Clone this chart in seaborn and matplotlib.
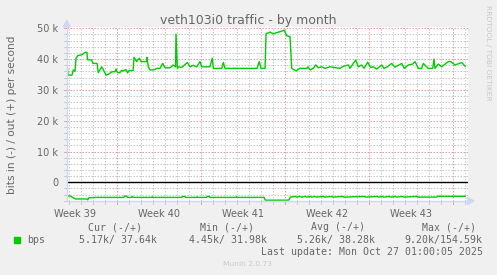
import numpy as np
import pandas as pd
import matplotlib
matplotlib.use("Agg")
import matplotlib.pyplot as plt
import seaborn as sns
from matplotlib.patches import Polygon, Rectangle
from matplotlib.lines import Line2D

# ---------------- data (days since start of window, values in k bits/s) ----------------
out_days = [0, 0.11, 0.44, 0.55, 0.69, 0.78, 0.94, 1.28, 1.53, 1.69, 1.73, 2.08, 2.19, 2.53, 2.63,
            2.92, 3.28, 3.44, 3.78, 4.03, 4.11, 4.23, 4.44, 4.58, 4.72, 4.94, 5.08, 5.19, 5.53, 5.61,
            5.83, 6.05, 6.19, 6.67, 6.69, 6.80, 6.94, 7.22, 7.53, 7.78, 8.00, 8.19, 8.61, 8.75, 8.86,
            9.07, 9.11, 9.22, 9.30, 9.58, 10.05, 10.28, 10.55, 10.83, 11.11, 11.25, 11.94, 12.13, 12.22,
            12.92, 13.05, 13.19, 14.03, 14.44, 15.86, 16.05, 16.19, 16.53, 16.61, 16.94, 17.22, 17.50,
            17.78, 18.13, 18.33, 18.61, 18.75, 19.11, 19.44, 20.00, 20.11, 20.28, 20.55, 20.75, 20.97,
            21.25, 21.53, 21.94, 22.78, 23.05, 23.47, 23.61, 23.83, 24.08, 24.30, 24.58, 24.78, 25.08,
            25.33, 25.55, 25.83, 26.25, 26.44, 26.72, 27.08, 27.36, 27.92, 28.13, 28.47, 28.83, 29.03,
            29.30, 29.58, 29.72, 30.13, 30.50, 30.61, 30.69, 30.97, 31.25, 31.80, 32.00, 32.36, 32.92,
            33.22]
out_k = [40.3, 34.8, 34.8, 36.5, 36.0, 40.3, 41.2, 41.4, 42.2, 42.2, 39.8, 39.7, 38.6, 38.6, 35.6,
         37.5, 34.8, 35.0, 35.9, 35.9, 36.8, 35.6, 35.6, 36.4, 36.1, 36.6, 35.5, 36.3, 36.3, 40.6,
         39.2, 40.3, 39.2, 39.2, 40.6, 37.5, 36.5, 36.5, 37.0, 37.0, 38.6, 37.2, 37.2, 37.6, 38.1,
         37.5, 48.1, 37.0, 37.5, 37.3, 38.9, 37.5, 38.0, 37.5, 39.2, 37.5, 37.5, 40.3, 37.0,
         37.0, 38.9, 37.0, 37.0, 37.0, 37.0, 39.2, 37.0, 37.0, 48.2, 48.8, 48.2, 48.6,
         48.9, 49.4, 47.6, 47.3, 37.0, 36.2, 37.0, 37.0, 37.5, 36.5, 37.0, 38.1, 37.2,
         37.5, 37.0, 37.5, 37.0, 37.7, 38.1, 37.0, 38.3, 39.7, 37.5, 38.1, 37.0, 39.0,
         37.3, 37.5, 36.8, 38.1, 37.0, 37.5, 38.6, 37.4, 38.6, 37.0, 38.1, 38.4, 39.2,
         37.0, 37.0, 38.6, 37.0, 37.0, 40.0, 37.0, 38.4, 37.5, 39.2, 39.2, 38.1, 38.9,
         37.6]

in_days = [0, 0.28, 0.40, 0.53, 0.74, 1.67, 1.75, 1.85, 2.55, 4.75, 4.80, 5.00, 5.05, 5.42, 5.47,
           5.55, 7.08, 7.13, 7.20, 9.60, 9.65, 9.85, 9.90, 10.80, 10.85, 10.92, 11.65, 11.70, 11.90,
           11.95, 14.10, 14.15, 14.22, 16.45, 16.55, 18.50, 18.65, 19.05, 19.15, 19.45, 19.55, 19.90,
           20.00, 20.30, 20.40, 20.70, 20.80, 21.40, 21.50, 22.10, 22.20, 23.00, 23.10, 24.80, 24.90,
           25.90, 26.00, 26.30, 26.40, 26.90, 27.00, 27.40, 27.50, 28.00, 28.10, 29.20, 29.30, 30.80,
           30.90, 33.22]
in_k = [4.45, 4.45, 4.7, 5.0, 5.4, 5.4, 5.7, 5.0, 4.9, 4.9, 4.45, 4.45, 4.9, 4.9, 4.6,
        4.9, 4.9, 4.7, 4.9, 4.9, 4.6, 4.6, 4.9, 4.9, 4.7, 4.9, 4.9, 4.6, 4.6,
        4.9, 4.9, 4.7, 4.9, 4.9, 5.8, 5.8, 4.8, 4.6, 4.8, 4.6, 4.8, 4.6,
        4.8, 4.6, 4.8, 4.6, 4.8, 4.6, 4.8, 4.6, 4.8, 4.6, 4.8, 4.6, 4.8,
        4.6, 4.8, 4.6, 4.8, 4.6, 4.8, 4.6, 4.8, 4.6, 4.8, 4.6, 4.8, 4.8,
        4.55, 4.55]

week_labels = ["Week 39", "Week 40", "Week 41", "Week 42", "Week 43"]
y_ticks = [0, 10, 20, 30, 40, 50]
y_tick_labels = ["0", "10 k", "20 k", "30 k", "40 k", "50 k"]

title = "veth103i0 traffic - by month"
ylabel = "bits in (-) / out (+) per second"
legend_headers = ["Cur (-/+)", "Min (-/+)", "Avg (-/+)", "Max (-/+)"]
legend_values = ["5.17k/ 37.64k", "4.45k/ 31.98k", "5.26k/ 38.28k", "9.20k/154.59k"]
series_name = "bps"
last_update = "Last update: Mon Oct 27 01:00:05 2025"
footer = "Munin 2.0.73"
watermark = "RRDTOOL / TOBI OETIKER"

# ---------------- styling ----------------
sns.set_style("white")
plt.rcParams["font.family"] = ["DejaVu Sans"]

W, H = 497, 275
FONT_C = "#666666"
GREEN = "#00CC00"
AXIS_C = "#CFD6F8"
GRID_C = "#C9C9C9"
MGRID_C = "#E0A0A0"


def fx(x):
    return x / W


def fy(y):
    return 1 - y / H


fig = plt.figure(figsize=(W / 100, H / 100), dpi=100, facecolor="#F0F0F0")
L, R, T, B = 66.7, 467.7, 27.4, 201.0
ax = fig.add_axes([fx(L), fy(B), (R - L) / W, (B - T) / H])
ax.set_facecolor("white")
PX_PER_DAY = 12.0
xmax = (R - L) / PX_PER_DAY
ax.set_xlim(0, xmax)
ax.set_ylim(-6.07, 50.3)
for s in ax.spines.values():
    s.set_visible(False)

# grid
first_major = 4.17
majors = first_major + 7 * np.arange(5)
dash = (0, (1.5, 1.5))
for d in np.arange(first_major - 4, xmax, 1.0):
    is_major = np.any(np.isclose(majors, d))
    ax.axvline(d, color=MGRID_C if is_major else GRID_C, lw=0.72, ls=dash, zorder=1)
    ax.plot([d, d], [0, -3.0 / (B - T)], transform=ax.get_xaxis_transform(), clip_on=False,
            color=MGRID_C if is_major else GRID_C, lw=0.72, zorder=1)
for y in np.arange(-6, 51, 2):
    if y == 0:
        continue
    is_major = (y % 10 == 0)
    ax.axhline(y, color=MGRID_C if is_major else GRID_C, lw=0.72, ls=dash, zorder=1)
    ax.plot([-3.0 / (R - L), 0], [y, y], transform=ax.get_yaxis_transform(), clip_on=False,
            color=MGRID_C if is_major else GRID_C, lw=0.72, zorder=1)

# data
df_out = pd.DataFrame({"day": out_days, "kbps": out_k})
df_in = pd.DataFrame({"day": in_days, "kbps": -np.array(in_k)})
sns.lineplot(data=df_out, x="day", y="kbps", ax=ax, color=GREEN, lw=1.0, sort=False,
             estimator=None, zorder=5)
sns.lineplot(data=df_in, x="day", y="kbps", ax=ax, color=GREEN, lw=1.0, sort=False,
             estimator=None, zorder=5)
ax.axhline(0, color="black", lw=1.0, zorder=4)

# ticks / labels
ax.set_yticks(y_ticks, y_tick_labels)
ax.set_xticks(majors - 3.5, week_labels)
ax.tick_params(axis="y", length=0, pad=6.2, labelsize=7, labelcolor=FONT_C)
ax.tick_params(axis="x", length=0, pad=5.6, labelsize=7, labelcolor=FONT_C)
ax.set_xlabel("")
ax.set_ylabel("")

# axes lines + arrows
fig.add_artist(Line2D([fx(L), fx(470)], [fy(B), fy(B)], color=AXIS_C, lw=1.0, zorder=6))
fig.add_artist(Line2D([fx(L), fx(L)], [fy(B), fy(24)], color=AXIS_C, lw=1.0, zorder=6))
fig.add_artist(Polygon([(fx(467.5), fy(197.5)), (fx(474), fy(B)), (fx(467.5), fy(204.5))],
                       closed=True, color=AXIS_C, zorder=6))
fig.add_artist(Polygon([(fx(63.2), fy(27)), (fx(L), fy(20.5)), (fx(70.2), fy(27))],
                       closed=True, color=AXIS_C, zorder=6))

# texts
fig.text(fx(248.7), fy(24), title, ha="center", va="baseline", fontsize=9, color=FONT_C)
fig.text(fx(12), fy(114.5), ylabel, ha="center", va="center", rotation=90, fontsize=7.6,
         color=FONT_C)
fig.text(fx(488), fy(53.3), watermark, ha="center", va="center", rotation=270, fontsize=5.4,
         color="#C8C8C8")

mono = dict(family="DejaVu Sans Mono", fontsize=7.1, color=FONT_C)
header_right = [141.7, 254, 365, 476]
value_right = [157, 266.7, 375, 482.7]
for txt, xr in zip(legend_headers, header_right):
    fig.text(fx(xr), fy(227.5), txt, ha="right", va="center", **mono)
for txt, xr in zip(legend_values, value_right):
    fig.text(fx(xr), fy(239.7), txt, ha="right", va="center", **mono)
fig.text(fx(26.7), fy(239.7), series_name, ha="left", va="center", **mono)
fig.add_artist(Rectangle((fx(14), fy(243.3)), 6 / W, 6 / H, color=GREEN, zorder=6))
fig.text(fx(482.7), fy(251.7), last_update, ha="right", va="center", **mono)
fig.text(fx(247.8), fy(263.8), footer, ha="center", va="center", fontsize=5.4, color="#C8C8C8")

fig.savefig("out.png", dpi=100, facecolor=fig.get_facecolor())
